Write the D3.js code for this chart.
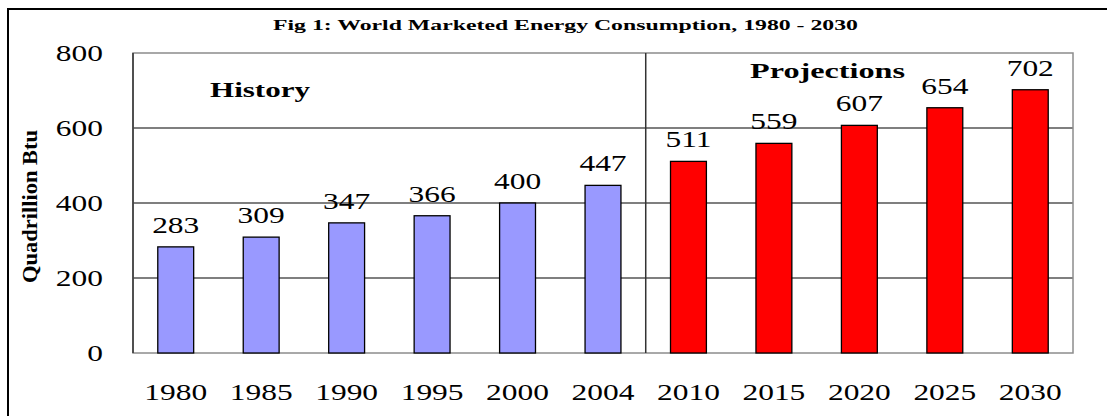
<!DOCTYPE html>
<html>
<head>
<meta charset="utf-8">
<script src="https://cdn.jsdelivr.net/npm/d3@7"></script>
<style>
  body { margin: 0; background: #fff; }
  text { font-family: "Liberation Serif", "Times New Roman", serif; fill: #000; }
</style>
</head>
<body>
<div id="viz"></div>
<script>
var years = ["1980", "1985", "1990", "1995", "2000", "2004", "2010", "2015", "2020", "2025", "2030"],
    values = [283, 309, 347, 366, 400, 447, 511, 559, 607, 654, 702],
    historyYears = ["1980", "1985", "1990", "1995", "2000", "2004"],
    yTicks = [0, 200, 400, 600, 800];

var width = 1107, height = 416,
    margin = {top: 53, right: 34, bottom: 63, left: 133},
    stretch = 1.31;

var svg = d3.select('#viz').append('svg')
    .attr('width', width)
    .attr('height', height);

// outer frame
svg.append('rect')
    .attr('x', 8).attr('y', 9)
    .attr('width', width + 20).attr('height', height + 20)
    .attr('fill', 'none')
    .attr('stroke', '#000')
    .attr('stroke-width', 2);

var x = d3.scaleBand()
    .domain(years)
    .range([margin.left, width - margin.right])
    .paddingInner(0.58)
    .paddingOuter(0.29);

var xb = d3.scaleBand()
    .domain(years)
    .range([margin.left, width - margin.right]);

var y = d3.scaleLinear()
    .domain([0, 800])
    .range([height - margin.bottom, margin.top]);

// gridlines
svg.append('g')
    .selectAll('line')
    .data(yTicks.filter(d => d > 0 && d < 800))
    .join('line')
    .attr('x1', margin.left).attr('x2', width - margin.right)
    .attr('y1', d => y(d)).attr('y2', d => y(d))
    .attr('stroke', '#000')
    .attr('stroke-width', 1.2);

// plot area border (grey)
svg.append('rect')
    .attr('x', margin.left)
    .attr('y', y(800))
    .attr('width', width - margin.right - margin.left)
    .attr('height', y(0) - y(800))
    .attr('fill', 'none')
    .attr('stroke', '#8c8c8c')
    .attr('stroke-width', 1.5);

// left axis line
svg.append('line')
    .attr('x1', margin.left).attr('x2', margin.left)
    .attr('y1', y(800)).attr('y2', y(0))
    .attr('stroke', '#333')
    .attr('stroke-width', 1.5);

// history / projections divider
var divX = xb('2010');
svg.append('line')
    .attr('x1', divX).attr('x2', divX)
    .attr('y1', y(800)).attr('y2', y(0))
    .attr('stroke', '#333')
    .attr('stroke-width', 1.5);

var data = years.map((d, i) => ({year: d, value: values[i], hist: historyYears.includes(d)}));

// bars
svg.append('g')
    .selectAll('rect')
    .data(data)
    .join('rect')
    .attr('x', d => x(d.year))
    .attr('y', d => y(d.value))
    .attr('width', x.bandwidth())
    .attr('height', d => y(0) - y(d.value))
    .attr('fill', d => d.hist ? '#9999ff' : '#ff0000')
    .attr('stroke', '#000')
    .attr('stroke-width', 1.3);

// value labels
svg.append('g')
    .selectAll('text')
    .data(data)
    .join('text')
    .attr('transform', d => `translate(${x(d.year) + x.bandwidth() / 2},${y(d.value) - 14}) scale(${stretch},1)`)
    .attr('text-anchor', 'middle')
    .attr('font-size', 24)
    .text(d => d.value);

// y tick labels
svg.append('g')
    .selectAll('text')
    .data(yTicks)
    .join('text')
    .attr('transform', d => `translate(103,${y(d) + 8}) scale(${stretch},1)`)
    .attr('text-anchor', 'end')
    .attr('font-size', 24)
    .text(d => d);

// x labels
svg.append('g')
    .selectAll('text')
    .data(years)
    .join('text')
    .attr('transform', d => `translate(${xb(d) + xb.bandwidth() / 2},400) scale(${stretch},1)`)
    .attr('text-anchor', 'middle')
    .attr('font-size', 24)
    .text(d => d);

// title
svg.append('text')
    .attr('x', 273).attr('y', 30)
    .attr('font-size', 15)
    .attr('font-weight', 'bold')
    .attr('textLength', 585)
    .attr('lengthAdjust', 'spacingAndGlyphs')
    .text('Fig 1: World Marketed Energy Consumption, 1980 - 2030');

svg.append('text')
    .attr('x', 210).attr('y', 97)
    .attr('font-size', 22)
    .attr('font-weight', 'bold')
    .attr('textLength', 100)
    .attr('lengthAdjust', 'spacingAndGlyphs')
    .text('History');

svg.append('text')
    .attr('x', 750).attr('y', 78)
    .attr('font-size', 22)
    .attr('font-weight', 'bold')
    .attr('textLength', 155)
    .attr('lengthAdjust', 'spacingAndGlyphs')
    .text('Projections');

// y axis title
svg.append('text')
    .attr('transform', 'translate(37,283) rotate(-90)')
    .attr('font-size', 20)
    .attr('font-weight', 'bold')
    .attr('textLength', 153)
    .attr('lengthAdjust', 'spacingAndGlyphs')
    .text('Quadrillion Btu');
</script>
</body>
</html>
